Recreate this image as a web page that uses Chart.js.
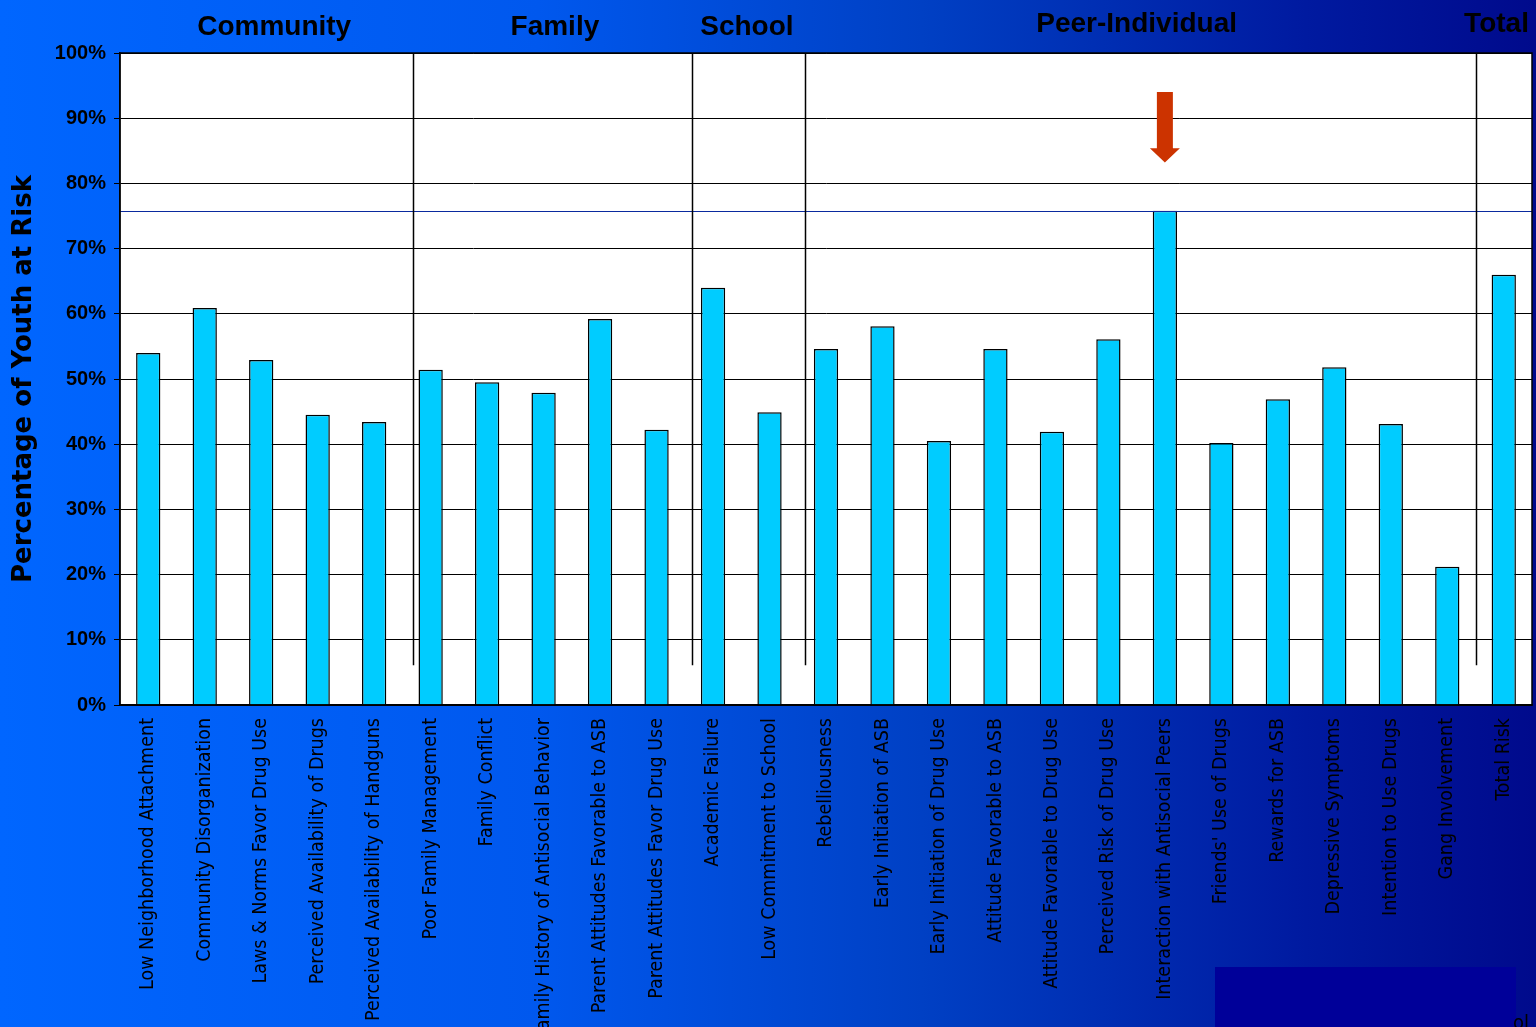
<!DOCTYPE html>
<html>
<head>
<meta charset="utf-8">
<script src="https://cdn.jsdelivr.net/npm/chart.js@4"></script>
<style>
html,body{margin:0;padding:0;overflow:hidden;background:#0055ee;}
#wrap{position:relative;width:1536px;height:1027px;}
canvas{display:block;}
</style>
</head>
<body>
<div id="wrap"><canvas id="c" width="1536" height="1027"></canvas></div>
<script>
const categories = [
  "Low Neighborhood Attachment",
  "Community Disorganization",
  "Laws & Norms Favor Drug Use",
  "Perceived Availability of Drugs",
  "Perceived Availability of Handguns",
  "Poor Family Management",
  "Family Conflict",
  "Family History of Antisocial Behavior",
  "Parent Attitudes Favorable to ASB",
  "Parent Attitudes Favor Drug Use",
  "Academic Failure",
  "Low Commitment to School",
  "Rebelliousness",
  "Early Initiation of ASB",
  "Early Initiation of Drug Use",
  "Attitude Favorable to ASB",
  "Attitude Favorable to Drug Use",
  "Perceived Risk of Drug Use",
  "Interaction with Antisocial Peers",
  "Friends' Use of Drugs",
  "Rewards for ASB",
  "Depressive Symptoms",
  "Intention to Use Drugs",
  "Gang Involvement",
  "Total Risk"
];
const percentAtRisk = [54.0, 60.9, 52.9, 44.5, 43.4, 51.4, 49.5, 47.9, 59.2, 42.2,
  64.0, 44.9, 54.6, 58.1, 40.5, 54.6, 41.9, 56.1, 75.8, 40.2, 46.9, 51.8, 43.1, 21.2, 66.0];
const domainNames = ["Community", "Family", "School", "Peer-Individual", "Total"];
const domainLabelAt = [2.23, 7.2, 10.6, 17.5, 23.9];
const dividerAt = [4.69, 9.62, 11.62, 23.5];
const highlightIndex = 18;
const yTicks = [0, 10, 20, 30, 40, 50, 60, 70, 80, 90, 100];

const decor = {
  id: 'decor',
  beforeDraw(chart) {
    const ctx = chart.ctx, W = chart.width, H = chart.height, a = chart.chartArea;
    ctx.save();
    const g = ctx.createLinearGradient(0, 0, W, 0);
    g.addColorStop(0, '#0066ff');
    g.addColorStop(0.35, '#0058ee');
    g.addColorStop(0.6, '#0040c4');
    g.addColorStop(0.85, '#001aa0');
    g.addColorStop(1, '#000a8c');
    ctx.fillStyle = g;
    ctx.fillRect(0, 0, W, H);
    ctx.fillStyle = '#000099';
    ctx.fillRect(1215, 967, 301, 60);
    ctx.fillStyle = '#ffffff';
    ctx.fillRect(a.left, a.top, a.right - a.left, a.bottom - a.top);
    ctx.restore();
  },
  afterDatasetsDraw(chart) {
    const ctx = chart.ctx, a = chart.chartArea;
    const xs = chart.scales.x, ys = chart.scales.y;
    ctx.save();
    // highlight line
    const hy = Math.round(ys.getPixelForValue(percentAtRisk[highlightIndex])) + 0.5;
    ctx.strokeStyle = '#0a2a9e';
    ctx.lineWidth = 1;
    ctx.beginPath(); ctx.moveTo(a.left, hy); ctx.lineTo(a.right, hy); ctx.stroke();
    // dividers
    ctx.strokeStyle = '#000';
    ctx.lineWidth = 1.5;
    const yb = ys.getPixelForValue(6.1);
    dividerAt.forEach(v => {
      const x = Math.round(xs.getPixelForValue(v)) + 0.5;
      ctx.beginPath(); ctx.moveTo(x, a.top); ctx.lineTo(x, yb); ctx.stroke();
    });
    // plot border
    ctx.lineWidth = 1.5;
    ctx.strokeRect(a.left, a.top, a.right - a.left, a.bottom - a.top);
    // arrow
    const ax = xs.getPixelForValue(highlightIndex);
    const y0 = ys.getPixelForValue(94.0), y1 = ys.getPixelForValue(85.4), y2 = ys.getPixelForValue(83.2);
    ctx.fillStyle = '#cc3300';
    ctx.beginPath();
    ctx.moveTo(ax - 8, y0); ctx.lineTo(ax + 8, y0); ctx.lineTo(ax + 8, y1);
    ctx.lineTo(ax + 15, y1); ctx.lineTo(ax, y2); ctx.lineTo(ax - 15, y1);
    ctx.lineTo(ax - 8, y1); ctx.closePath(); ctx.fill();
    // domain headers
    ctx.fillStyle = '#000';
    ctx.font = 'bold 28px "Liberation Sans", Arial, sans-serif';
    ctx.textBaseline = 'middle';
    domainNames.forEach((n, i) => {
      const x = xs.getPixelForValue(domainLabelAt[i]);
      ctx.textAlign = (i === domainNames.length - 1) ? 'left' : 'center';
      const xx = (i === domainNames.length - 1) ? x - 34 : x;
      ctx.fillText(n, xx, i >= 3 ? 24 : 27);
    });
    ctx.font = '20px "DejaVu Sans Condensed", sans-serif';
    ctx.textAlign = 'left';
    ctx.textBaseline = 'alphabetic';
    ctx.fillText('ol', 1513, 1029);
    ctx.restore();
  }
};

new Chart(document.getElementById('c'), {
  type: 'bar',
  data: {
    labels: categories,
    datasets: [{
      data: percentAtRisk,
      backgroundColor: '#00ccff',
      borderColor: '#000',
      borderWidth: 1.5,
      categoryPercentage: 1,
      barPercentage: 0.43
    }]
  },
  options: {
    responsive: false,
    animation: false,
    devicePixelRatio: 1,
    layout: { padding: { top: 53, right: 4, left: 0, bottom: 0 } },
    plugins: { legend: { display: false }, tooltip: { enabled: false } },
    scales: {
      x: {
        afterFit(s) { s.height = 322; },
        grid: { display: false },
        border: { display: true, color: '#000', width: 1.5 },
        ticks: {
          autoSkip: false, minRotation: 90, maxRotation: 90, padding: 5,
          color: '#000',
          font: { family: '"DejaVu Sans Condensed", "DejaVu Sans", sans-serif', size: 19.5 }
        }
      },
      y: {
        min: 0, max: 100,
        afterFit(s) { s.width = 120; },
        afterBuildTicks(s) { s.ticks = yTicks.map(v => ({ value: v })); },
        grid: { color: '#000', lineWidth: 1, tickLength: 6 },
        border: { display: true, color: '#000', width: 1.5 },
        ticks: {
          padding: 8, color: '#000',
          font: { family: '"Liberation Sans", Arial, sans-serif', size: 20, weight: 'bold' },
          callback: v => v + '%'
        },
        title: {
          display: true, text: 'Percentage of Youth at Risk', color: '#000',
          font: { family: '"DejaVu Sans", sans-serif', size: 26, weight: 'bold' },
          padding: { top: 9, bottom: 0 }
        }
      }
    }
  },
  plugins: [decor]
});
</script>
</body>
</html>
